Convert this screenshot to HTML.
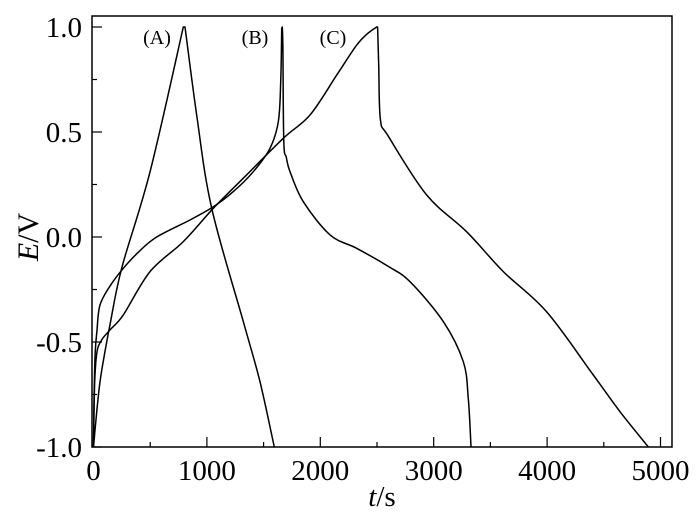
<!DOCTYPE html>
<html><head><meta charset="utf-8"><style>
body{margin:0;background:#fff}
svg text{font-family:"Liberation Serif",serif;fill:#000}
</style></head><body>
<svg id="c" width="700" height="519" xmlns="http://www.w3.org/2000/svg"></svg>
<script>
const xTicks=[0,1000,2000,3000,4000,5000];
const yTicks=[-1.0,-0.5,0.0,0.5,1.0];
const seriesA_t=[0,20,57,100,145,248,498,792,807,910,1042,1321,1468,1594];
const seriesA_e=[-1,-0.88,-0.69,-0.55,-0.42,-0.15,0.31,1.0,1.0,0.58,0.137,-0.403,-0.689,-1.0];
const seriesB_t=[0,5,15,30,57,150,263,400,557,851,1057,1233,1409,1556,1630,1651,1660,1665,1670,1678,1700,1733,1850,2086,2321,2600,2791,3085,3261,3305,3329];
const seriesB_e=[-1,-0.75,-0.55,-0.45,-0.324,-0.23,-0.149,-0.07,0.0,0.081,0.144,0.216,0.311,0.422,0.549,0.74,0.994,1.0,0.9,0.454,0.38,0.311,0.168,0.01,-0.054,-0.14,-0.213,-0.403,-0.594,-0.77,-1.0];
const seriesC_t=[0,10,30,72,150,263,498,792,1057,1321,1674,1909,2145,2321,2420,2497,2505,2515,2530,2600,2938,3291,3614,3996,4407,4643,4893];
const seriesC_e=[-1,-0.7,-0.55,-0.49,-0.44,-0.371,-0.165,-0.022,0.137,0.28,0.47,0.581,0.771,0.914,0.97,1.0,1.0,0.82,0.56,0.48,0.2,0.025,-0.165,-0.356,-0.657,-0.832,-1.0];
const X=t=>93.5+t*0.1134, Y=e=>237-e*210;
const svg=document.getElementById('c');const NS='http://www.w3.org/2000/svg';
function mk(tag,at,parent){const el=document.createElementNS(NS,tag);for(const k in at)el.setAttribute(k,at[k]);(parent||svg).appendChild(el);return el;}
function smooth(pts){
  if(pts.length<3)return pts.map((p,i)=>(i?'L':'M')+p[0].toFixed(1)+','+p[1].toFixed(1)).join('');
  let d='M'+pts[0][0].toFixed(1)+','+pts[0][1].toFixed(1);
  for(let i=0;i<pts.length-1;i++){
    const p0=pts[Math.max(0,i-1)],p1=pts[i],p2=pts[i+1],p3=pts[Math.min(pts.length-1,i+2)];
    const k=0.5/3;
    const c1=[p1[0]+(p2[0]-p0[0])*k,p1[1]+(p2[1]-p0[1])*k];
    const c2=[p2[0]-(p3[0]-p1[0])*k,p2[1]-(p3[1]-p1[1])*k];
    d+='C'+c1.map(v=>v.toFixed(1)).join(',')+' '+c2.map(v=>v.toFixed(1)).join(',')+' '+p2[0].toFixed(1)+','+p2[1].toFixed(1);
  }
  return d;
}
let f=mk('rect',{x:92,y:16,width:580,height:431,fill:'none',stroke:'#000','stroke-width':1.5});


for(let t=0;t<=5000;t+=500){const l=mk('line',{x1:X(t),x2:X(t),y1:447,y2:t%1000?442:437,stroke:'#000','stroke-width':1.2});

}
for(let e=-1;e<=1.001;e+=0.25){const l=mk('line',{x1:92,x2:(Math.round(e*100)%50)?97:102,y1:Y(e),y2:Y(e),stroke:'#000','stroke-width':1.2});

}
xTicks.forEach(t=>{const tx=mk('text',{x:X(t),y:480,'font-size':29,'text-anchor':'middle'});tx.textContent=t;

});
yTicks.forEach(e=>{const tx=mk('text',{x:82,y:Y(e)+10,'font-size':29,'text-anchor':'end'});tx.textContent=e.toFixed(1);

});
[[seriesA_t,seriesA_e,'series-a'],[seriesB_t,seriesB_e,'series-b'],[seriesC_t,seriesC_e,'series-c']].forEach(([ts,es,n])=>{
  const pts=ts.map((t,i)=>[X(t),Y(es[i])]);
  let first=es.findIndex(e=>e>=0.99), last=first;
  while(last+1<es.length&&es[last+1]>=0.99)last++;
  const d=smooth(pts.slice(0,first+1))+'L'+pts.slice(first,last+1).map(p=>p[0].toFixed(1)+','+p[1].toFixed(1)).join('L')+smooth(pts.slice(last)).replace(/^M/,'L');
  const p=mk('path',{d:d,fill:'none',stroke:'#000','stroke-width':1.5,'stroke-linejoin':'round'});
  
  });
[['(A)',157,'label-a'],['(B)',255,'label-b'],['(C)',333,'label-c']].forEach(([s,x,n])=>{const tx=mk('text',{x:x,y:44,'font-size':20,'text-anchor':'middle'});tx.textContent=s;

});
const yt=mk('text',{x:0,y:0,'font-size':30,'text-anchor':'middle',transform:'translate(38,237) rotate(-90)'});
yt.innerHTML='<tspan font-style="italic">E</tspan>/V';


const xt=mk('text',{x:382,y:506,'font-size':29,'text-anchor':'middle'});
xt.innerHTML='<tspan font-style="italic">t</tspan>/s';


</script>
</body></html>
